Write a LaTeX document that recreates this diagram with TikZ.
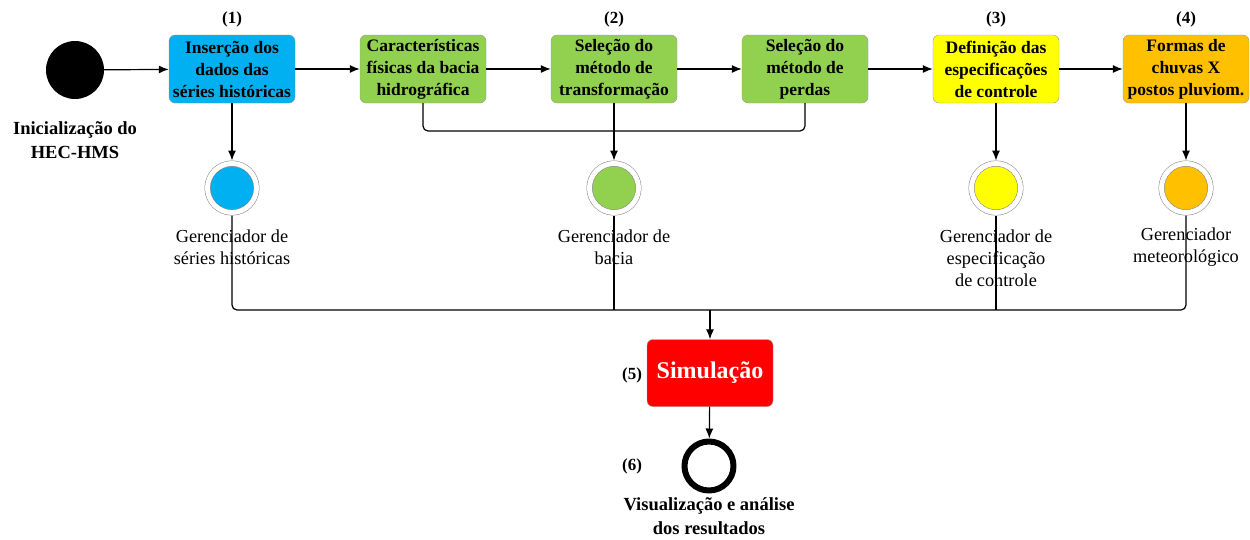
\documentclass[tikz,border=0pt]{standalone}
\usepackage{fontspec}
\setmainfont{Liberation Serif}
\usetikzlibrary{arrows.meta}
\definecolor{azul}{RGB}{0,176,240}
\definecolor{verde}{RGB}{146,208,80}
\definecolor{amarelo}{RGB}{255,255,0}
\definecolor{laranja}{RGB}{255,192,0}
\definecolor{vermelho}{RGB}{255,0,0}

\begin{document}
\begin{tikzpicture}[x=1pt,y=-1pt,>={Latex[length=10pt,width=8pt]},line join=bevel,
  etapa/.style={draw=black!40,rounded corners=6pt,minimum width=126pt,minimum height=68pt,
    align=center,inner sep=1pt,font=\fontsize{17.5}{22}\selectfont\bfseries},
  gerente/.style={circle,draw=gray,line width=0.5pt,double=white,double distance=5pt,
    minimum size=49pt,inner sep=0pt,outer sep=3pt},
  rotulo/.style={align=center,font=\fontsize{18.3}{22}\selectfont},
  negrito/.style={align=center,font=\fontsize{18.5}{24}\selectfont\bfseries},
  numero/.style={font=\fontsize{17}{20}\selectfont\bfseries},
  fio/.style={line width=1.2pt,rounded corners=5pt}]
  \useasboundingbox (0,0) rectangle (1250,539);
  % etapas
  \node (ini) at (75,70) [circle,fill=black,minimum size=58pt] {};
  \node (ins) at (232,69) [etapa,fill=azul] {Inserção dos\\dados das\\séries históricas};
  \node (car) at (423,69) [etapa,fill=verde] {Características\\físicas da bacia\\hidrográfica};
  \node (tra) at (614,69) [etapa,fill=verde] {Seleção do\\método de\\transformação};
  \node (per) at (805,69) [etapa,fill=verde] {Seleção do\\método de\\perdas};
  \node (def) at (996,69) [etapa,fill=amarelo] {Definição das\\especificações\\de controle};
  \node (for) at (1186,69) [etapa,fill=laranja] {Formas de\\chuvas X\\postos pluviom.};
  \node (li) at (75,140) [negrito] {Inicialização do\\HEC-HMS};
  \node (n1) at (232,19) [numero] {(1)};
  \node (n2) at (614,19) [numero] {(2)};
  \node (n3) at (996,19) [numero] {(3)};
  \node (n4) at (1186,19) [numero] {(4)};
  % gerenciadores
  \node (gs) at (232,188) [gerente,fill=azul] {};
  \node (gb) at (614,188) [gerente,fill=verde] {};
  \node (ge) at (996,188) [gerente,fill=amarelo] {};
  \node (gm) at (1186,188) [gerente,fill=laranja] {};
  \node (ls) at (232,247) [rotulo] {Gerenciador de\\séries históricas};
  \node (lb) at (614,247) [rotulo] {Gerenciador de\\bacia};
  \node (le) at (996,258) [rotulo] {Gerenciador de\\especificação\\de controle};
  \node (lm) at (1186,247) [rotulo] {Gerenciador\\meteorológico};
  % simulacao
  \node (sim) at (710,373) [etapa,fill=vermelho,minimum height=67pt,text=white,
    font=\fontsize{24}{28}\selectfont\bfseries] {Simulação};
  \node (fim) at (709,466) [circle,draw,line width=6pt,minimum size=49pt] {};
  \node (n5) at (632,375) [numero] {(5)};
  \node (n6) at (632,466) [numero] {(6)};
  \node (lv) at (709,516) [negrito] {Visualização e análise\\dos resultados};
  % ligacoes
  \draw [fio,->] (ini) -- (ins);
  \draw [fio,->] (ins) -- (car);
  \draw [fio,->] (car) -- (tra);
  \draw [fio,->] (tra) -- (per);
  \draw [fio,->] (per) -- (def);
  \draw [fio,->] (def) -- (for);
  \draw [fio,->] (ins) -- (gs);
  \coordinate (jb) at (614,131);
  \draw [fio] (car.south) |- (jb);
  \draw [fio] (per.south) |- (jb);
  \draw [fio,->] (tra) -- (gb);
  \draw [fio,->] (def) -- (ge);
  \draw [fio,->] (for) -- (gm);
  \coordinate (js) at (710,310);
  \draw [fio] (gs.south) |- (js);
  \draw [fio] (gm.south) |- (js);
  \draw [fio] (gb.south) -- (gb.south|-js);
  \draw [fio] (ge.south) -- (ge.south|-js);
  \draw [fio,->] (js) -- (sim);
  \draw [fio,->] (sim) -- (fim);
\end{tikzpicture}
\end{document}
